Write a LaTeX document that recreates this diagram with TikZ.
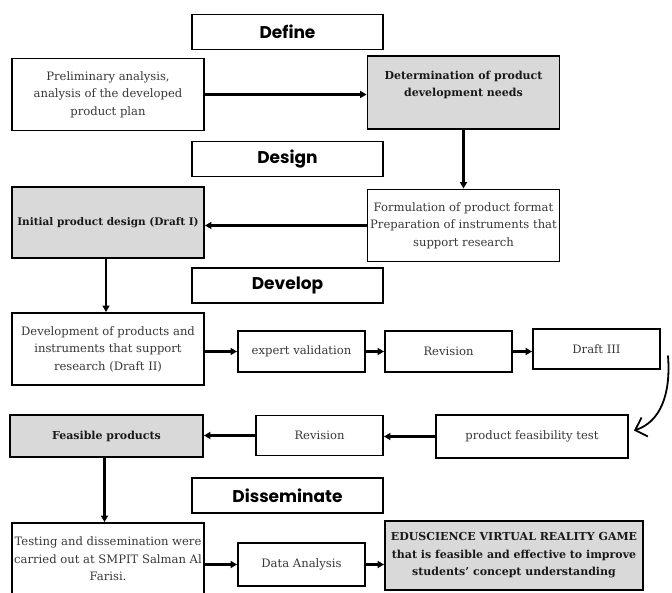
\documentclass[tikz,border=0pt]{standalone}
\usepackage{fontspec}
\setmainfont{DejaVu Serif}
\newfontfamily\headfont{Poppins}
\usetikzlibrary{arrows.meta,calc}
\definecolor{boxgray}{HTML}{D9D9D9}
\definecolor{txtgray}{HTML}{383838}
\begin{document}
\begin{tikzpicture}[x=1pt,y=-1pt,
  box/.style={draw=black, line width=1.9pt, fill=white, inner sep=0pt, align=center,
    text=txtgray, font=\fontsize{11.6}{17.5}\selectfont},
  gbox/.style={box, fill=boxgray, text=black!90, font=\fontsize{11}{17.5}\selectfont\bfseries},
  head/.style={draw=black, line width=1.9pt, fill=white, minimum width=191pt, minimum height=35pt,
    font=\headfont\bfseries\fontsize{17}{20}\selectfont},
  arr/.style={line width=2.2pt, -{Triangle[length=6.5pt,width=7pt]}}
]
\useasboundingbox (0,0) rectangle (672,593);
\clip (0,0) rectangle (672,593);

% Define stage
\node[head] (define) at (287.5,32) {Define};
\node[box, minimum width=192pt, minimum height=72pt] (prelim) at (108,94.5)
  {Preliminary analysis,\\ analysis of the developed\\ product plan};
\node[gbox, minimum width=192pt, minimum height=73pt] (determ) at (463.5,92.5)
  {Determination of product\\ development needs\\ \mbox{}};

% Design stage
\node[head] (design) at (287.5,159) {Design};
\node[gbox, minimum width=192pt, minimum height=71pt, font=\fontsize{10.5}{17}\selectfont\bfseries] (initial) at (108,222.5)
  {Initial product design (Draft I)};
\node[box, minimum width=192pt, minimum height=72pt] (formul) at (463.5,225.5)
  {Formulation of product format\\ Preparation of instruments that\\ support research};

% Develop stage
\node[head] (develop) at (287.5,285.5) {Develop};
\node[box, minimum width=192pt, minimum height=72pt] (devel) at (108,349)
  {Development of products and\\ instruments that support\\ research (Draft II)};
\node[box, minimum width=127pt, minimum height=41pt] (expert) at (301.5,351.5) {expert validation};
\node[box, minimum width=127pt, minimum height=41pt] (rev1) at (448.5,351.5) {Revision};
\node[box, minimum width=127pt, minimum height=40pt] (draft3) at (596.5,349) {Draft III};

\node[box, minimum width=192pt, minimum height=43pt] (pft) at (532,436.5) {product feasibility test};
\node[box, minimum width=127pt, minimum height=40pt] (rev2) at (319.5,435.5) {Revision};
\node[gbox, minimum width=193pt, minimum height=42pt] (feasible) at (106.5,436) {Feasible products};

% Disseminate stage
\node[head] (dissem) at (287.5,495.5) {Disseminate};
\node[box, minimum width=192pt, minimum height=82pt] (testing) at (108,564) {};
\node[align=center, text=txtgray, font=\fontsize{11.6}{17.5}\selectfont, inner sep=0pt] (testtxt) at (108,559)
  {Testing and dissemination were\\ carried out at SMPIT Salman Al\\ Farisi.};
\node[box, minimum width=127pt, minimum height=43pt] (data) at (301.5,564.5) {Data Analysis};
\node[gbox, minimum width=258pt, minimum height=69pt] (edu) at (514,555.5)
  {EDUSCIENCE VIRTUAL REALITY GAME\\ that is feasible and effective to improve\\ students' concept understanding};

% connectors
\draw[arr] (prelim.east) -- (prelim.east -| determ.west);
\draw[arr] (determ.south) -- (formul.north);
\draw[arr] (formul.west) -- (formul.west -| initial.east);
\draw[arr] ([xshift=-2pt]initial.south) -- ([xshift=-2pt]devel.north);
\draw[arr] (expert.west -| devel.east) -- (expert.west);
\draw[arr] (expert.east) -- (rev1.west);
\draw[arr] (rev1.east) -- (rev1.east -| draft3.west);
\coordinate (cs) at (668,356);
\draw[line width=1.8pt, line cap=round, -{Straight Barb[length=10pt,width=20pt,line width=1.8pt]}]
  (cs) .. controls (671,395) and (660,422) .. ([shift={(5,-6)}]pft.east);
\draw[arr] (pft.west) -- (pft.west -| rev2.east);
\draw[arr] (rev2.west) -- (rev2.west -| feasible.east);
\draw[arr] ([xshift=-2pt]feasible.south) -- ([xshift=-2pt]feasible.south |- testing.north);
\draw[arr] (data.west -| testing.east) -- (data.west);
\draw[arr] (data.east) -- (data.east -| edu.west);
\end{tikzpicture}
\end{document}
